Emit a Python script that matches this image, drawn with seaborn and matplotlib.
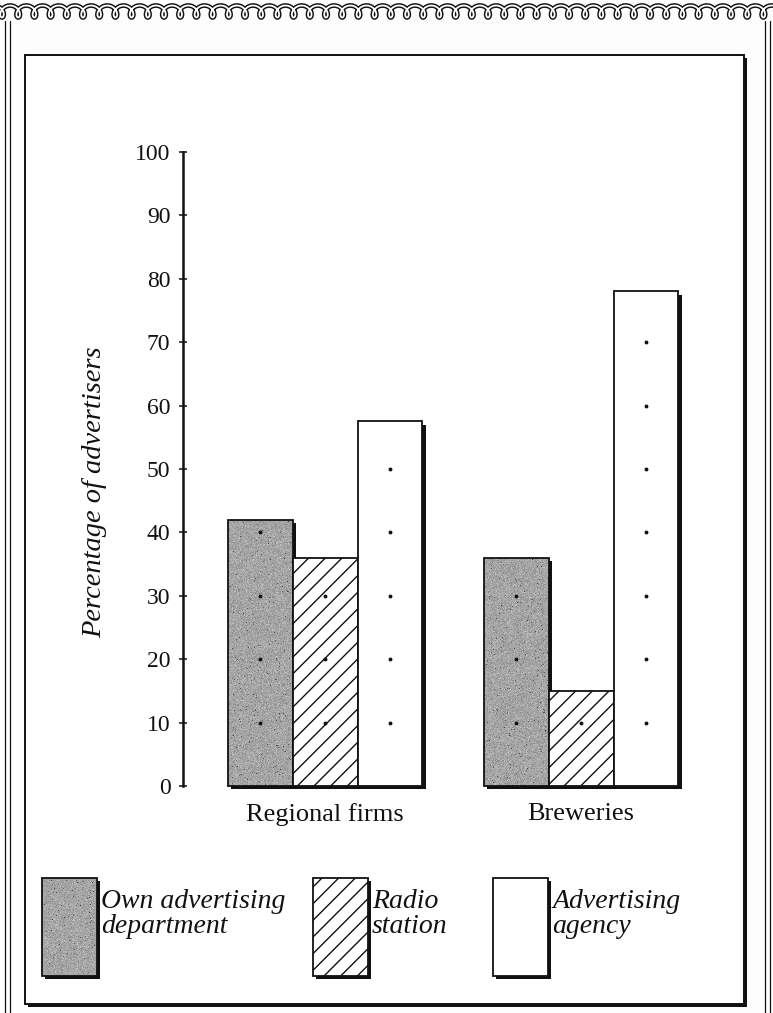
import numpy as np
import pandas as pd
import matplotlib
matplotlib.use("Agg")
import matplotlib.pyplot as plt
import matplotlib.patheffects as pe
from matplotlib.lines import Line2D
from matplotlib.patches import Rectangle
from matplotlib.transforms import ScaledTranslation
import seaborn as sns

# --- data -------------------------------------------------------------
categories = ["Regional firms", "Breweries"]
sources = ["Own advertising\ndepartment", "Radio\nstation", "Advertising\nagency"]
own_department = [42, 36]
radio_station = [36, 15]
advertising_agency = [57.5, 78]
y_ticks = list(range(0, 101, 10))
y_title = "Percentage of advertisers"

df = pd.DataFrame({
    "group": categories * 3,
    "source": np.repeat(sources, len(categories)),
    "pct": own_department + radio_station + advertising_agency,
})

# --- style ------------------------------------------------------------
sns.set_theme(style="white")
SERIF = ["Liberation Serif", "DejaVu Serif"]
plt.rcParams["font.family"] = SERIF
plt.rcParams["hatch.linewidth"] = 1.0
plt.rcParams["text.color"] = "#111111"
INK = "#111111"
GREY = "#a4a4a4"

W, H = 773, 1013
fig = plt.figure(figsize=(W / 100, H / 100), dpi=100, facecolor="#fdfdfd")
rng = np.random.default_rng(7)


def fx(px):
    return px / W


def fy(py):
    return 1 - py / H


def grain(h, w):
    """Grainy mid-grey stipple used for the 'own department' fill."""
    g = rng.normal(0.645, 0.05, size=(h, w))
    specks = rng.random((h, w)) < 0.012
    g[specks] = rng.uniform(0.25, 0.45, specks.sum())
    return np.clip(g, 0, 1)


shadow = [pe.withSimplePatchShadow(offset=(2.4, -2.4), shadow_rgbFace=INK, alpha=1.0)]

# decorative page frame: running scroll along the top, double rules at the sides
t = np.linspace(-1, 50, 51 * 80)
period = 16.2
xs = 2 + period * (t - 0.32 * np.sin(2 * np.pi * t))
ys = 11.5 + 6.0 * np.cos(2 * np.pi * t)
fig.add_artist(Line2D(fx(xs), fy(ys), transform=fig.transFigure, color=INK, lw=3.4, zorder=-3))
fig.add_artist(Line2D(fx(xs), fy(ys), transform=fig.transFigure, color="white", lw=1.3, zorder=-2))
for px in (5, 10, 765, 770):
    fig.add_artist(Line2D([fx(px), fx(px)], [fy(21), fy(1013)], transform=fig.transFigure,
                          color=INK, lw=0.9, zorder=-3))

# inner panel with a drop shadow on the right and bottom edges
panel = Rectangle((fx(25), fy(1004)), fx(744) - fx(25), fy(55) - fy(1004),
                  transform=fig.transFigure, facecolor="white", edgecolor=INK, lw=1.4, zorder=-1)
panel.set_path_effects(shadow)
fig.add_artist(panel)

# --- bars -------------------------------------------------------------
ax = fig.add_axes([fx(183), fy(786), fx(735) - fx(183), fy(152) - fy(786)])
ax.set_facecolor("none")
sns.barplot(data=df, x="group", y="pct", hue="source", order=categories, hue_order=sources,
            palette=[GREY, "white", "white"], saturation=1, width=0.76,
            edgecolor=INK, linewidth=1.3, errorbar=None, legend=False, ax=ax)

XLIM, YLIM = (-0.555, 1.601), (0, 100)
ax.set_xlim(*XLIM)
ax.set_ylim(*YLIM)
px_x = (XLIM[1] - XLIM[0]) / 552      # data units per pixel
px_y = (YLIM[1] - YLIM[0]) / 634

hatches = ["", "//", ""]
for i, (cont, hatch) in enumerate(zip(ax.containers, hatches)):
    for bar in cont:
        bar.set_hatch(hatch)
        bar.set_path_effects(shadow)
        bar.set_clip_on(False)
        x0, w, hgt = bar.get_x(), bar.get_width(), bar.get_height()
        if i == 0:
            nw, nh = int(w / px_x), int(hgt / px_y)
            ax.imshow(grain(nh, nw), cmap="gray", vmin=0, vmax=1, aspect="auto",
                      interpolation="nearest", zorder=bar.get_zorder() + 0.1,
                      extent=(x0 + 1.2 * px_x, x0 + w - 1.2 * px_x, 1.2 * px_y, hgt - 1.2 * px_y))
        # small dots marking each scale step inside the bar
        cx = x0 + w / 2
        levels = [v for v in y_ticks if 0 < v < hgt]
        ax.plot([cx] * len(levels), levels, "o", color=INK, ms=2.8, mew=0, zorder=5, clip_on=False)

ax.set_xlim(*XLIM)
ax.set_ylim(*YLIM)
ax.set_yticks(y_ticks)
ax.set_yticklabels([str(v) for v in y_ticks], fontsize=17, color=INK)
for lbl in ax.get_xticklabels():
    lbl.set_fontsize(19)
    lbl.set_color(INK)
sns.despine(ax=ax, left=False, bottom=True, right=True, top=True)
ax.spines["left"].set_linewidth(1.8)
ax.spines["left"].set_color(INK)
ax.tick_params(axis="y", direction="inout", length=6, width=1.1, pad=6, left=True, colors=INK)
ax.tick_params(axis="x", length=0, pad=12)
ax.set_xlabel("")
ax.set_ylabel(y_title, fontsize=20.5, style="italic", color=INK)
ax.yaxis.label.set_va("center")
ax.yaxis.set_label_coords((95 - 183) / 552, (786 - 492) / 634)

# --- legend: one entry per source, laid out across the foot of the panel
legend_x = [42, 313, 493]
legends = []
lift = ScaledTranslation(0, 10 / 100, fig.dpi_scale_trans)
for cont, label, px in zip(ax.containers, sources, legend_x):
    leg = fig.legend(handles=[cont.patches[0]], labels=[label], loc="upper left",
                     bbox_to_anchor=(fx(px), fy(878)), frameon=False, borderpad=0, borderaxespad=0,
                     handlelength=55 / 27.8, handleheight=5.94 * 17 / 20, handletextpad=0.15,
                     prop=dict(family=SERIF, style="italic", size=20), labelcolor=INK)
    for txt in leg.get_texts():
        txt.set_linespacing(1.0)
        txt.set_transform(txt.get_transform() + lift)
    legends.append(leg)

# grain for the 'own department' legend key, laid inside its outline
fig.canvas.draw()
key = legends[0].get_patches()[0].get_window_extent()
kx0, ky0 = int(round(key.x0)) + 2, int(round(key.y0)) + 2
kw, kh = int(key.width) - 3, int(key.height) - 3
fig.figimage(grain(kh, kw), xo=kx0, yo=ky0, cmap="gray", vmin=0, vmax=1, origin="lower", zorder=10)

fig.savefig("out.png", dpi=100, facecolor=fig.get_facecolor())
